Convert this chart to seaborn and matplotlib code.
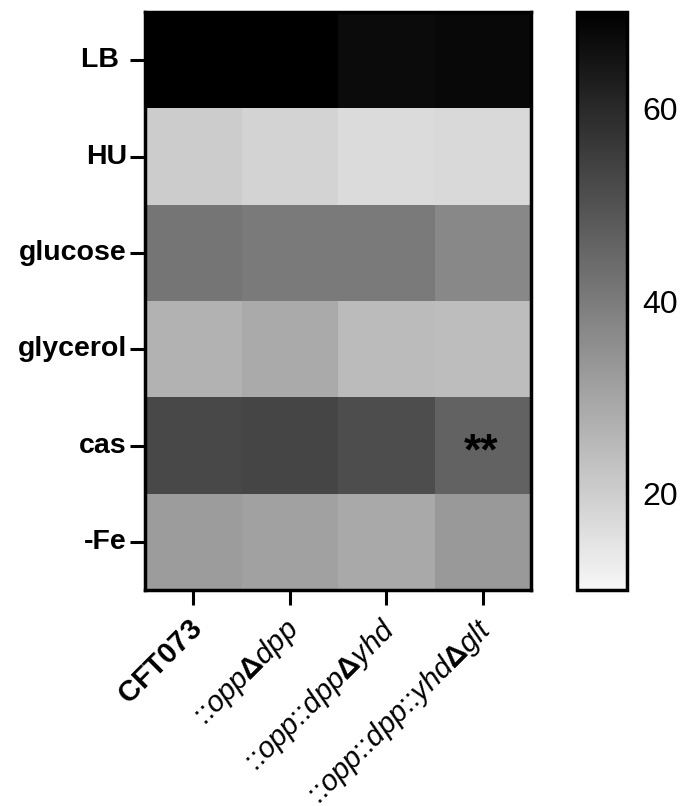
import numpy as np
import pandas as pd
import matplotlib
matplotlib.use("Agg")
import matplotlib.pyplot as plt
import matplotlib.transforms as mtransforms
import seaborn as sns
from matplotlib.colors import LinearSegmentedColormap

conditions = ["LB", "HU", "glucose", "glycerol", "cas", "-Fe"]
condition_labels = ["LB ", "HU", "glucose", "glycerol", "cas", "-Fe"]
strains = ["CFT073", "::oppΔdpp", "::opp::dppΔyhd", "::opp::dpp::yhdΔglt"]
strain_labels = [
    r"$\mathbf{CFT073}$",
    r"::$\mathit{opp}$$\mathbf{\Delta}$$\mathit{dpp}$",
    r"::$\mathit{opp}$::$\mathit{dpp}$$\mathbf{\Delta}$$\mathit{yhd}$",
    r"::$\mathit{opp}$::$\mathit{dpp}$::$\mathit{yhd}$$\mathbf{\Delta}$$\mathit{glt}$",
]
LB = [70.0, 70.0, 67.3, 68.1]
HU = [20.4, 18.7, 17.0, 17.3]
glucose = [41.6, 40.4, 40.4, 37.0]
glycerol = [26.8, 28.7, 24.6, 24.1]
cas = [52.5, 53.2, 51.3, 46.2]
minusFe = [32.1, 30.9, 29.2, 32.8]
stars = [["", "", "", ""]] * 4 + [["", "", "", "**"], ["", "", "", ""]]

df = pd.DataFrame([LB, HU, glucose, glycerol, cas, minusFe], index=conditions, columns=strains)

sns.set_theme(style="white")
plt.rcParams["font.family"] = ["Liberation Sans", "DejaVu Sans"]
plt.rcParams["mathtext.fontset"] = "custom"
plt.rcParams["mathtext.rm"] = "Liberation Sans"
plt.rcParams["mathtext.it"] = "Liberation Sans:italic"
plt.rcParams["mathtext.bf"] = "Liberation Sans:bold"
for k in ["text.color", "xtick.color", "ytick.color", "axes.labelcolor", "axes.edgecolor"]:
    plt.rcParams[k] = "black"

cmap = LinearSegmentedColormap.from_list("g", ["#f7f7f7", "#000000"])

fig = plt.figure(figsize=(6.81, 8.06), dpi=100)
ax = fig.add_axes([0.213, 0.268, 0.567, 0.717])
cax = fig.add_axes([0.847, 0.268, 0.074, 0.717])

sns.heatmap(df, ax=ax, cbar_ax=cax, cmap=cmap, vmin=10, vmax=70,
            annot=np.array(stars), fmt="",
            annot_kws={"fontsize": 32, "fontweight": "bold", "color": "black"})

for t in ax.texts:
    t.set_va("center")
    t.set_transform(mtransforms.offset_copy(t.get_transform(), fig=fig, x=-1.5, y=-5.5, units="points"))

for s in ax.spines.values():
    s.set_visible(True)
    s.set_linewidth(2.5)
    s.set_color("black")

ax.tick_params(axis="both", which="both", length=11, width=2.2, color="black",
               direction="out", left=True, bottom=True)
ax.tick_params(axis="y", pad=2)
ax.tick_params(axis="x", pad=14)
ax.set_yticklabels(condition_labels, rotation=0, fontsize=20.5, fontweight="bold")
ax.set_xticklabels(strain_labels, rotation=45, ha="right", va="center",
                   rotation_mode="anchor", fontsize=21)
shift = mtransforms.ScaledTranslation(3.5 / 72, 0, fig.dpi_scale_trans)
for lab in ax.get_xticklabels():
    lab.set_transform(lab.get_transform() + shift)
ax.set_xlabel("")
ax.set_ylabel("")

cax.set_yticks([20, 40, 60])
cax.tick_params(axis="y", which="both", direction="in", length=6.5, width=2.2, left=True, right=True,
                labelleft=False, labelright=True, labelsize=23, pad=11, color="black")
cb = ax.collections[0].colorbar
cb.outline.set_visible(True)
cb.outline.set_linewidth(2.5)
cb.outline.set_edgecolor("black")

fig.savefig("out.png", dpi=100)
